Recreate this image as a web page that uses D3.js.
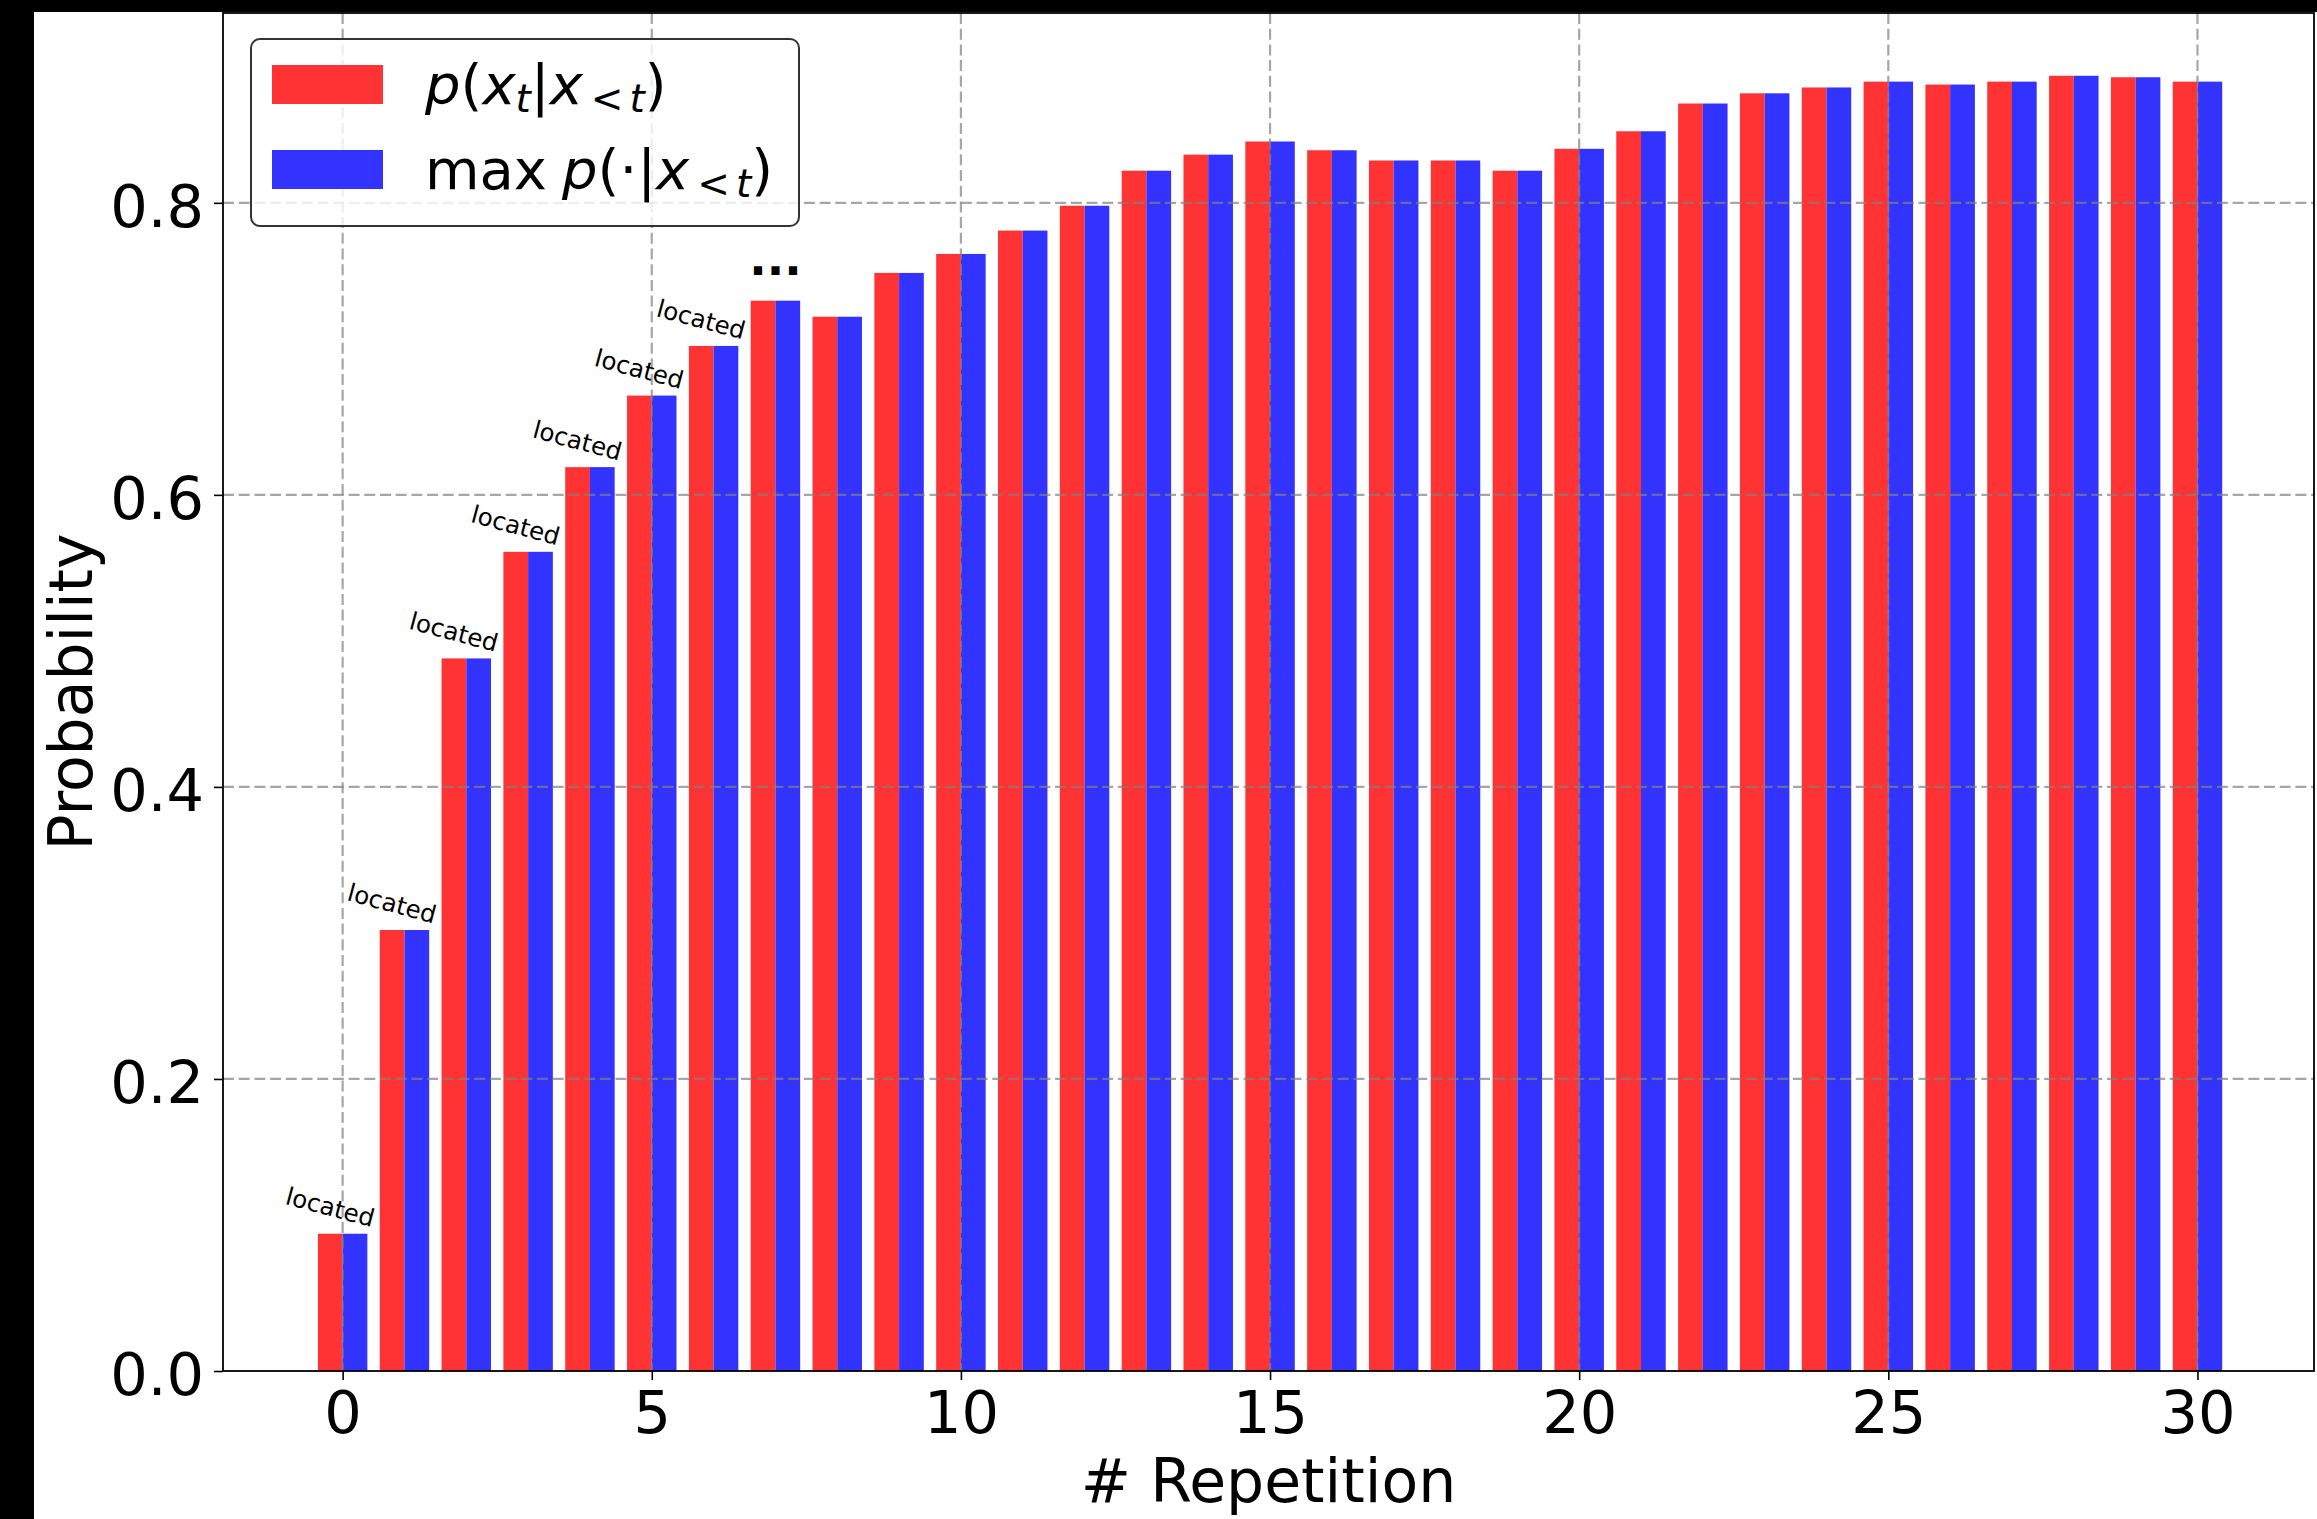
<!DOCTYPE html>
<html>
<head>
<meta charset="utf-8">
<script src="https://cdn.jsdelivr.net/npm/d3@7"></script>
<style>
  html, body { margin: 0; padding: 0; background: #fff; }
  svg { display: block; }
  text { font-family: "DejaVu Sans", sans-serif; }
</style>
</head>
<body>
<svg id="chart" width="2317" height="1519"></svg>
<script>
// ---------------- data ----------------
const repetitions = d3.range(0, 31);
const probToken = [0.094, 0.302, 0.488, 0.561, 0.619, 0.668, 0.702, 0.733, 0.722, 0.752,
                   0.765, 0.781, 0.798, 0.822, 0.833, 0.842, 0.836, 0.829, 0.829, 0.822,
                   0.837, 0.849, 0.868, 0.875, 0.879, 0.883, 0.881, 0.883, 0.887, 0.886, 0.883];
const probMax   = [0.094, 0.302, 0.488, 0.561, 0.619, 0.668, 0.702, 0.733, 0.722, 0.752,
                   0.765, 0.781, 0.798, 0.822, 0.833, 0.842, 0.836, 0.829, 0.829, 0.822,
                   0.837, 0.849, 0.868, 0.875, 0.879, 0.883, 0.881, 0.883, 0.887, 0.886, 0.883];
const annotIndex = [0, 1, 2, 3, 4, 5, 6];
const annotText = "located";
const ellipsisIndex = 7;
const xTicks = [0, 5, 10, 15, 20, 25, 30];
const yTicks = [0.0, 0.2, 0.4, 0.6, 0.8];
const xLabel = "# Repetition";
const yLabel = "Probability";

// ---------------- layout ----------------
const W = 2317, H = 1519;
const plot = { left: 223, right: 2314, top: 13, bottom: 1371 };
const barW = 0.4;
const RED = "#ff3333", BLUE = "#3333ff";
const FS = 59;

const svg = d3.select("#chart");
svg.append("rect").attr("width", W).attr("height", H).attr("fill", "#fff");

const x = d3.scaleLinear().domain([-1.935, 31.885]).range([plot.left, plot.right]);
const y = d3.scaleLinear().domain([0, 0.93]).range([plot.bottom, plot.top]);

// bars
const gBars = svg.append("g");
gBars.selectAll("rect.red").data(repetitions).join("rect")
  .attr("class", "red")
  .attr("x", d => x(d - barW))
  .attr("width", d => x(d) - x(d - barW))
  .attr("y", d => y(probToken[d]))
  .attr("height", d => y(0) - y(probToken[d]))
  .attr("fill", RED);
gBars.selectAll("rect.blue").data(repetitions).join("rect")
  .attr("class", "blue")
  .attr("x", d => x(d))
  .attr("width", d => x(d + barW) - x(d))
  .attr("y", d => y(probMax[d]))
  .attr("height", d => y(0) - y(probMax[d]))
  .attr("fill", BLUE);

// grid (drawn over bars, semi transparent)
const gGrid = svg.append("g").attr("stroke", "#808080").attr("stroke-opacity", 0.7)
  .attr("stroke-width", 2.2).attr("stroke-dasharray", "11 4.7").attr("fill", "none");
gGrid.selectAll("line.v").data(xTicks).join("line")
  .attr("x1", d => x(d)).attr("x2", d => x(d))
  .attr("y1", plot.top).attr("y2", plot.bottom);
gGrid.selectAll("line.h").data(yTicks.filter(v => v > 0)).join("line")
  .attr("x1", plot.left).attr("x2", plot.right)
  .attr("y1", d => y(d)).attr("y2", d => y(d));

// annotations
const gAnn = svg.append("g");
annotIndex.forEach(i => {
  const cx = x(i - barW / 2);
  const cy = y(probToken[i]) - 27;
  gAnn.append("g").attr("transform", `translate(${cx},${cy}) rotate(15)`)
    .append("text").attr("text-anchor", "middle").attr("y", 9)
    .attr("font-size", 24.5).attr("fill", "#000").text(annotText);
});
gAnn.append("text")
  .attr("x", x(ellipsisIndex)).attr("y", y(probToken[ellipsisIndex]) - 26)
  .attr("text-anchor", "middle").attr("font-size", 46).attr("font-weight", "bold").text("...");

// axes
const xAxis = d3.axisBottom(x).tickValues(xTicks).tickFormat(d3.format("d"))
  .tickSize(9).tickPadding(11);
const gx = svg.append("g").attr("transform", `translate(0,${plot.bottom})`).call(xAxis);
gx.select(".domain").remove();
gx.selectAll(".tick line").attr("stroke", "#000").attr("stroke-width", 1.6);
gx.selectAll(".tick text").attr("font-size", FS).attr("font-family", "DejaVu Sans").attr("fill", "#000");

const yAxis = d3.axisLeft(y).tickValues(yTicks).tickFormat(d3.format(".1f"))
  .tickSize(9).tickPadding(10);
const gy = svg.append("g").attr("transform", `translate(${plot.left},0)`).call(yAxis);
gy.select(".domain").remove();
gy.selectAll(".tick line").attr("stroke", "#000").attr("stroke-width", 1.6);
gy.selectAll(".tick text").attr("font-size", FS).attr("font-family", "DejaVu Sans")
  .attr("fill", "#000").attr("dy", "0.4em");

// spines
svg.append("rect")
  .attr("x", plot.left).attr("y", plot.top)
  .attr("width", plot.right - plot.left).attr("height", plot.bottom - plot.top)
  .attr("fill", "none").attr("stroke", "#000").attr("stroke-width", 1.8);

// axis labels
svg.append("text").attr("x", (plot.left + plot.right) / 2).attr("y", 1502)
  .attr("text-anchor", "middle").attr("font-size", 60).text(xLabel);
svg.append("text").attr("transform", `translate(92,${(plot.top + plot.bottom) / 2}) rotate(-90)`)
  .attr("text-anchor", "middle").attr("font-size", 60).text(yLabel);

// legend
const LFS = 56, SFS = 39;
const leg = svg.append("g");
leg.append("rect").attr("x", 251).attr("y", 39).attr("width", 548).attr("height", 187)
  .attr("rx", 9).attr("ry", 9)
  .attr("fill", "#fff").attr("fill-opacity", 0.8)
  .attr("stroke", "#333").attr("stroke-width", 2);
leg.append("rect").attr("x", 272).attr("y", 65).attr("width", 111).attr("height", 39).attr("fill", RED);
leg.append("rect").attr("x", 272).attr("y", 150).attr("width", 111).attr("height", 39).attr("fill", BLUE);

const t1 = leg.append("text").attr("x", 425).attr("y", 104).attr("font-size", LFS);
t1.append("tspan").attr("font-style", "italic").text("p");
t1.append("tspan").text("(");
t1.append("tspan").attr("font-style", "italic").text("x");
t1.append("tspan").attr("font-style", "italic").attr("font-size", SFS).attr("dy", 8).text("t");
t1.append("tspan").attr("dy", -8).text("|");
t1.append("tspan").attr("font-style", "italic").text("x");
t1.append("tspan").attr("font-size", SFS).attr("dy", 8).attr("dx", 8).text("<");
t1.append("tspan").attr("font-style", "italic").attr("font-size", SFS).attr("dx", 6).text("t");
t1.append("tspan").attr("dy", -8).text(")");

const t2 = leg.append("text").attr("x", 425).attr("y", 189).attr("font-size", LFS);
t2.append("tspan").text("max");
t2.append("tspan").attr("font-style", "italic").attr("dx", 15).text("p");
t2.append("tspan").text("(\u00b7|");
t2.append("tspan").attr("font-style", "italic").text("x");
t2.append("tspan").attr("font-size", SFS).attr("dy", 8).attr("dx", 8).text("<");
t2.append("tspan").attr("font-style", "italic").attr("font-size", SFS).attr("dx", 6).text("t");
t2.append("tspan").attr("dy", -8).text(")");

// outer black frame bands (as in reference)
svg.append("rect").attr("x", 0).attr("y", 0).attr("width", 34).attr("height", H).attr("fill", "#000");
svg.append("rect").attr("x", 0).attr("y", 0).attr("width", W).attr("height", 12).attr("fill", "#000");
</script>
</body>
</html>
